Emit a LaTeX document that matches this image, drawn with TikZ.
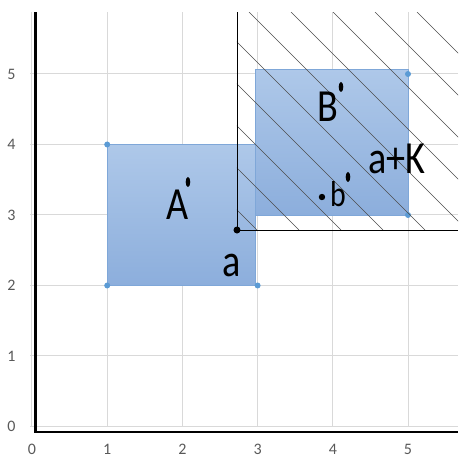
\documentclass[tikz,border=0pt]{standalone}
\usepackage{fontspec}
\usepackage{graphicx}
\setmainfont{Carlito}
\usetikzlibrary{positioning}
\definecolor{gridgray}{HTML}{D9D9D9}
\definecolor{ticktext}{HTML}{595959}
\definecolor{boxtop}{HTML}{AEC8E9}
\definecolor{boxbottom}{HTML}{8CAEDC}
\definecolor{boxline}{HTML}{7FA7D8}
\definecolor{cornerdot}{HTML}{5B9BD5}
\definecolor{hatchgray}{HTML}{4D4D4D}
\newcommand{\narrow}[1]{\scalebox{0.83}[1]{#1}}
\tikzset{
  setbox/.style={draw=boxline,line width=0.6pt,top color=boxtop,bottom color=boxbottom},
  corner/.style={circle,fill=cornerdot,inner sep=0pt,minimum size=6pt},
  bigletter/.style={font=\fontsize{46}{46}\selectfont,inner sep=0pt},
  midletter/.style={font=\fontsize{36}{36}\selectfont,inner sep=0pt},
  ticklabel/.style={font=\fontsize{16}{16}\selectfont,text=ticktext,inner sep=0pt},
  hatchline/.style={hatchgray,line width=0.5pt}
}
\begin{document}
\begin{tikzpicture}[x=75.2pt,y=70.5pt]
  \useasboundingbox (-0.4255,-0.461) rectangle (5.665,6.0496);
  % grid and tick labels
  \foreach \i in {0,...,5} {
    \draw[gridgray,line width=1pt] (\i,0) -- (\i,5.879);
    \draw[gridgray,line width=1pt] (-0.02,\i) -- (5.665,\i);
    \node[ticklabel] (ylab\i) at (-0.273,\i) {\i};
    \node[ticklabel,anchor=north] (xlab\i) at (\i,-0.25) {\i};
  }
  % the two sets
  \draw[setbox] (1,2) rectangle (2.97,4);
  \draw[setbox] (2.97,3) rectangle (5,5.07);
  \foreach \px/\py [count=\k] in {1/4,1/2,3/2,5/5,5/3}
    \node[corner] (dot\k) at (\px,\py) {};
  % the cone a+K
  \coordinate (a) at (2.726,2.787);
  \coordinate (atop) at (2.726,5.879);
  \coordinate (aright) at (5.665,2.787);
  \begin{scope}
    \clip (a) rectangle (5.665,5.879);
    \foreach \c in {27,69,...,447}
      \draw[hatchline] ({(\c-20)/75.2},{414.5/70.5}) -- ({(\c+198)/75.2},{196.5/70.5});
  \end{scope}
  \draw[line width=0.8pt] (atop) -- (a) -- (aright);
  \fill (a) circle (3.5pt);
  % axes
  \draw[line width=2.5pt] (0.047,5.879) -- (0.047,-0.078) -- (5.665,-0.078);
  % labels
  \node[bigletter] (labA) at (1.941,3.142) {\narrow{A}};
  \node[bigletter] (labB) at (3.936,4.532) {\narrow{B}};
  \node[bigletter] (laba) at (2.66,2.29) {\narrow{a}};
  \node[bigletter] (labaK) at (4.854,3.80) {\narrow{a+K}};
  \node[midletter] (labb) at (4.069,3.29) {\narrow{b}};
  \fill (2.074,3.468) ellipse [x radius=2.3pt,y radius=5pt];
  \fill (4.109,4.816) ellipse [x radius=2.3pt,y radius=5pt];
  \fill (4.202,3.539) ellipse [x radius=2.3pt,y radius=5pt];
  \fill (3.856,3.255) circle (3.2pt);
\end{tikzpicture}
\end{document}
